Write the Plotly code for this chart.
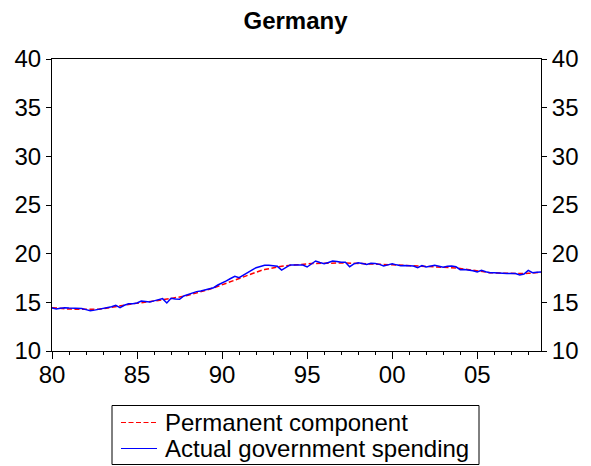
import numpy as np
import plotly.graph_objects as go

# quarterly observations, 1980Q1 - 2008Q4
quarters = np.arange(1980, 2009, 0.25)

# actual government spending (% of GDP)
actual = [
    14.42, 14.32, 14.40, 14.45,
    14.42, 14.40, 14.38, 14.36,
    14.25, 14.14, 14.20, 14.28,
    14.35, 14.42, 14.55, 14.69,
    14.45, 14.70, 14.86, 14.85,
    14.93, 15.14, 15.05, 15.03,
    15.15, 15.25, 15.38, 14.93,
    15.41, 15.35, 15.31, 15.65,
    15.80, 15.95, 16.10, 16.16,
    16.25, 16.34, 16.50, 16.78,
    16.95, 17.20, 17.45, 17.67,
    17.53, 17.80, 18.12, 18.30,
    18.56, 18.70, 18.80, 18.82,
    18.77, 18.70, 18.32, 18.60,
    18.84, 18.84, 18.85, 18.84,
    18.63, 18.90, 19.25, 19.10,
    18.97, 19.10, 19.25, 19.20,
    19.11, 19.12, 18.66, 18.95,
    19.07, 19.00, 18.90, 19.02,
    19.00, 18.90, 18.73, 18.85,
    18.97, 18.85, 18.77, 18.78,
    18.75, 18.73, 18.56, 18.77,
    18.63, 18.70, 18.80, 18.70,
    18.60, 18.70, 18.73, 18.65,
    18.35, 18.38, 18.35, 18.25,
    18.12, 18.29, 18.15, 18.05,
    18.05, 18.00, 17.98, 17.97,
    17.95, 17.95, 17.81, 17.91,
    18.29, 18.05, 18.10, 18.12,
]

# permanent component (smoothed)
permanent = [
    14.45, 14.40, 14.36, 14.33,
    14.31, 14.30, 14.29, 14.28,
    14.27, 14.27, 14.28, 14.30,
    14.34, 14.40, 14.47, 14.55,
    14.63, 14.70, 14.78, 14.85,
    14.92, 14.98, 15.04, 15.10,
    15.15, 15.20, 15.26, 15.32,
    15.38, 15.45, 15.53, 15.62,
    15.72, 15.83, 15.95, 16.07,
    16.20, 16.34, 16.48, 16.64,
    16.80, 16.97, 17.14, 17.32,
    17.50, 17.67, 17.84, 17.99,
    18.13, 18.25, 18.37, 18.47,
    18.56, 18.64, 18.70, 18.76,
    18.81, 18.85, 18.89, 18.92,
    18.95, 18.98, 19.00, 19.02,
    19.03, 19.04, 19.05, 19.05,
    19.05, 19.04, 19.03, 19.02,
    19.01, 19.00, 18.98, 18.96,
    18.94, 18.92, 18.90, 18.88,
    18.86, 18.84, 18.82, 18.80,
    18.78, 18.76, 18.74, 18.72,
    18.71, 18.70, 18.69, 18.68,
    18.66, 18.63, 18.59, 18.54,
    18.48, 18.41, 18.34, 18.27,
    18.20, 18.14, 18.09, 18.05,
    18.02, 18.00, 17.98, 17.96,
    17.95, 17.94, 17.94, 17.95,
    17.98, 18.02, 18.05, 18.08,
]

series_names = ["Permanent component", "Actual government spending"]
series_colors = ["#FF0000", "#0000FF"]
series_dash = ["5px,2.5px", "solid"]

x_ticks = [1980, 1985, 1990, 1995, 2000, 2005]
x_labels = ["80", "85", "90", "95", "00", "05"]
y_ticks = [10, 15, 20, 25, 30, 35, 40]

font = "Liberation Sans, Arial, sans-serif"
W, H = 591, 466
L, R, T, B = 52, 50, 59, 115


def px_x(px):
    return (px - L) / (W - L - R)


def px_y(py):
    return (H - B - py) / (H - T - B)


fig = go.Figure()
for name, vals, col, dash in zip(series_names, [permanent, actual],
                                 series_colors, series_dash):
    fig.add_trace(go.Scatter(x=quarters, y=vals, mode="lines", name=name,
                             showlegend=False,
                             line=dict(color=col, width=1.5, dash=dash)))
# invisible trace so the right-hand axis is drawn
fig.add_trace(go.Scatter(x=[quarters[0]], y=[actual[0]], yaxis="y2",
                         mode="lines", showlegend=False, hoverinfo="skip",
                         line=dict(color="rgba(0,0,0,0)")))

# boxed legend below the plot, EViews style
fig.add_shape(type="rect", xref="paper", yref="paper",
              x0=px_x(112), x1=px_x(479), y0=px_y(464.5), y1=px_y(405.5),
              line=dict(color="black", width=1), fillcolor="white")
for i, (name, col, dash) in enumerate(zip(series_names, series_colors,
                                          series_dash)):
    row_y = 422.5 + i * 26
    fig.add_shape(type="line", xref="paper", yref="paper",
                  x0=px_x(121), x1=px_x(157), y0=px_y(row_y), y1=px_y(row_y),
                  line=dict(color=col, width=1.2, dash=dash))
    fig.add_annotation(text=name, xref="paper", yref="paper",
                       x=px_x(163), y=px_y(row_y), xanchor="left",
                       yanchor="middle", showarrow=False,
                       font=dict(size=24))

fig.update_layout(
    width=W, height=H,
    margin=dict(l=L, r=R, t=T, b=B, autoexpand=False),
    paper_bgcolor="white", plot_bgcolor="white",
    font=dict(family=font, color="black", size=24),
    title=dict(text="<b>Germany</b>", x=0.5, xanchor="center",
               y=0.955, yanchor="middle", font=dict(size=24),
               automargin=False),
    xaxis=dict(range=[1980, 2008.75], tickvals=x_ticks, ticktext=x_labels,
               showgrid=False, zeroline=False, showline=True,
               linecolor="black", linewidth=1, mirror=True,
               ticks="outside", ticklen=7, tickcolor="black",
               ticklabelstandoff=-5, automargin=False,
               minor=dict(dtick=1, tick0=1980, ticks="outside", ticklen=3,
                          tickcolor="black", showgrid=False)),
    yaxis=dict(range=[10, 40], tickvals=y_ticks, showgrid=False,
               zeroline=False, showline=True, linecolor="black",
               linewidth=1, ticks="outside", ticklen=5, tickcolor="black",
               automargin=False),
    yaxis2=dict(range=[10, 40], tickvals=y_ticks, overlaying="y",
                side="right", showgrid=False, zeroline=False,
                showline=True, linecolor="black", linewidth=1,
                ticks="outside", ticklen=5, tickcolor="black",
                automargin=False),
    showlegend=False,
)

# page body has a default 8px margin; remove it so the figure fills the window
fig.write_html("out.html", config={"displayModeBar": False},
               post_script="document.body.style.margin='0';")
